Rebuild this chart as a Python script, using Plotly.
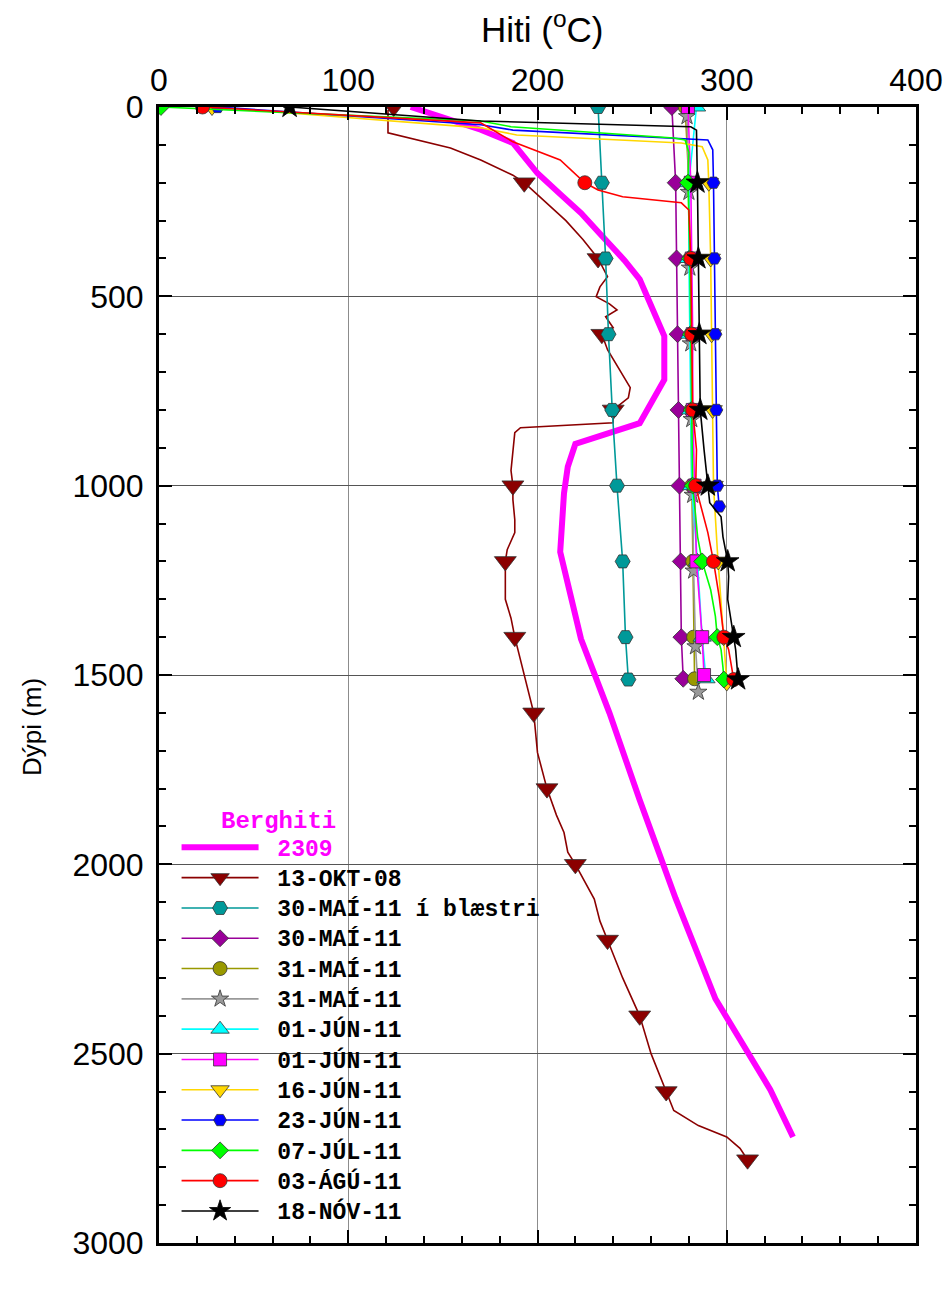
import plotly.graph_objects as go

# Berghiti (formation temperature) for well 2309
berg_depth = [0, 60, 95, 175, 230, 280, 335, 405, 455, 605, 720, 835, 890, 950,
              1020, 1175, 1405, 1600, 1830, 2090, 2355, 2595, 2720]
berg_temp = [133, 170, 187, 200, 212, 223, 233, 246, 254, 267, 267, 254, 220, 216,
             214, 212, 223, 238, 254, 273, 294, 323, 335]

# 13-OKT-08
okt08_depth = [0, 10, 68, 87, 108, 140, 180, 200, 245, 300, 350, 400, 448, 475, 501,
               520, 536, 554, 583, 600, 641, 700, 741, 768, 800, 834, 840, 847, 860,
               913, 960, 1000, 1037, 1090, 1124, 1169, 1200, 1300, 1350, 1400, 1480,
               1565, 1600, 1705, 1760, 1800, 1870, 1916, 1968, 2000, 2092, 2150, 2200,
               2300, 2400, 2500, 2600, 2650, 2690, 2720, 2750, 2780]
okt08_temp = [124, 121, 121, 136, 154, 170, 187, 193, 203, 215, 224, 232, 237, 233, 231,
              238, 242, 236, 240, 234, 237, 244, 249, 248, 240, 240, 215, 191, 188,
              187, 186, 187, 187, 188, 188, 184, 183, 183, 186, 188, 192,
              196, 198, 200, 203, 205, 210, 214, 216, 220, 230, 233, 237,
              245, 254, 260, 268, 272, 285, 300, 307, 311]
okt08_marks = [0, 200, 400, 600, 800, 1000, 1200, 1400, 1600, 1800, 2000, 2200,
               2400, 2600, 2780]

# 30-MAÍ-11 í blæstri
mai30b_depth = [0, 200, 400, 600, 800, 1000, 1200, 1400, 1512]
mai30b_temp = [232, 234, 236, 237.5, 239.5, 242, 245, 246.5, 248]
mai30b_marks = mai30b_depth

# 30-MAÍ-11
mai30_depth = [0, 200, 400, 600, 800, 1000, 1200, 1400, 1510]
mai30_temp = [271, 273, 273.5, 274, 274.5, 275, 275.7, 276, 277]
mai30_marks = mai30_depth

# 31-MAÍ-11 (circles)
mai31a_depth = [0, 200, 400, 600, 800, 1000, 1200, 1400, 1510]
mai31a_temp = [278, 280, 280.5, 281, 281, 281.5, 282, 282.5, 283]
mai31a_marks = mai31a_depth

# 31-MAÍ-11 (stars)
mai31b_depth = [25, 225, 425, 625, 825, 1025, 1225, 1425, 1545]
mai31b_temp = [279, 280, 280.5, 281, 281.5, 282, 282.5, 283.5, 285]
mai31b_marks = mai31b_depth

# 01-JÚN-11 (triangles)
jun01a_depth = [0, 200, 400, 600, 800, 1000, 1200, 1400, 1510]
jun01a_temp = [284, 280, 280, 280.5, 281, 281.5, 284.5, 287, 289]
jun01a_marks = jun01a_depth

# 01-JÚN-11 (squares)
jun01b_depth = [0, 200, 400, 600, 800, 1000, 1200, 1400, 1500]
jun01b_temp = [279.5, 281, 281.5, 282, 282, 283, 284, 287, 288]
jun01b_marks = jun01b_depth

# 16-JÚN-11
jun16_depth = [0, 55, 74, 95, 105, 140, 200, 400, 600, 800, 905, 1000, 1169, 1200,
               1380, 1400, 1520]
jun16_temp = [28, 170, 189, 276, 287, 290, 290.5, 291.5, 292, 292.5, 292.6, 293, 295,
              295.5, 298, 298.3, 300]
jun16_marks = [0, 200, 400, 600, 800, 1000, 1200, 1400, 1520]

# 23-JÚN-11
jun23_depth = [0, 47, 61, 82, 87, 113, 200, 400, 600, 800, 1000, 1055]
jun23_temp = [31, 170, 187, 276, 290, 292.6, 293, 293.5, 294, 294.5, 295, 296]
jun23_marks = [0, 200, 400, 600, 800, 1000, 1055]

# 07-JÚL-11
jul07_depth = [0, 37, 52, 82, 87, 120, 200, 400, 600, 800, 1000, 1135, 1200, 1275,
               1345, 1400, 1433, 1480, 1512]
jul07_temp = [1, 170, 186, 272, 278, 280, 279.5, 280.5, 281, 281.5, 282, 284.6, 287,
              291.5, 294, 295, 297, 298, 298.5]
jul07_marks = [0, 200, 400, 600, 800, 1000, 1200, 1400, 1512]

# 03-ÁGÚ-11
agu03_depth = [0, 42, 92, 140, 200, 219, 237, 253, 272, 400, 600, 800, 905, 1000,
               1029, 1124, 1200, 1293, 1400, 1433, 1512]
agu03_temp = [23, 170, 187, 212, 225, 232, 245, 276, 280, 281, 281.5, 282, 284,
              283.6, 285, 290, 293, 296, 298.5, 301, 303.7]
agu03_marks = [0, 200, 400, 600, 800, 1000, 1200, 1400, 1512]

# 18-NÓV-11
nov18_depth = [0, 37, 52, 61, 200, 400, 600, 800, 905, 950, 1000, 1045, 1082, 1135,
               1200, 1240, 1300, 1345, 1400, 1433, 1512]
nov18_temp = [69, 170, 281, 284, 284.5, 285, 285.5, 286, 288, 289, 290, 291, 297, 298,
              300.5, 301, 300.5, 302, 303.7, 304.7, 306]
nov18_marks = [0, 200, 400, 600, 800, 1000, 1200, 1400, 1512]

x_ticks = [0, 100, 200, 300, 400]
y_ticks = [0, 500, 1000, 1500, 2000, 2500, 3000]

MONO = "Liberation Mono"
SANS = "Liberation Sans"


def legend_label(text, color=None):
    # non-breaking space keeps a gap between the key symbol and the label
    style = "font-size:23px"
    if color:
        style += ";color:" + color
    return "<span style='%s'>\u00a0%s</span>" % (style, text)


fig = go.Figure()

# formation temperature curve
fig.add_trace(go.Scatter(
    x=berg_temp, y=berg_depth, mode="lines", name=legend_label("2309", "#FF00FF"),
    line=dict(color="#FF00FF", width=6), hoverinfo="skip", showlegend=True))


def add_log(label, depth, temp, marks, color, symbol, size, edge="#333333"):
    mx = [t for d, t in zip(depth, temp) if d in marks]
    my = [d for d in depth if d in marks]
    fig.add_trace(go.Scatter(x=temp, y=depth, mode="lines", showlegend=False,
                             line=dict(color=color, width=1.6), hoverinfo="skip"))
    mk = dict(symbol=symbol, size=size, color=color, line=dict(color=edge, width=0.8))
    fig.add_trace(go.Scatter(x=mx, y=my, mode="markers", showlegend=False, marker=mk))
    fig.add_trace(go.Scatter(x=[None], y=[None], mode="lines+markers",
                             name=legend_label(label),
                             line=dict(color=color, width=1.6), marker=mk))


add_log("13-OKT-08", okt08_depth, okt08_temp, okt08_marks, "#8B0000", "triangle-down", 19)
add_log("30-MAÍ-11 í blæstri", mai30b_depth, mai30b_temp, mai30b_marks, "#009999", "hexagon2", 15)
add_log("30-MAÍ-11", mai30_depth, mai30_temp, mai30_marks, "#990099", "diamond", 13)
add_log("31-MAÍ-11", mai31a_depth, mai31a_temp, mai31a_marks, "#999900", "circle", 14)
add_log("31-MAÍ-11", mai31b_depth, mai31b_temp, mai31b_marks, "#999999", "star", 13)
add_log("01-JÚN-11", jun01a_depth, jun01a_temp, jun01a_marks, "#00FFFF", "triangle-up", 16)
add_log("01-JÚN-11", jun01b_depth, jun01b_temp, jun01b_marks, "#FF00FF", "square", 13)
add_log("16-JÚN-11", jun16_depth, jun16_temp, jun16_marks, "#FFD700", "triangle-down", 17)
add_log("23-JÚN-11", jun23_depth, jun23_temp, jun23_marks, "#0000FF", "hexagon2", 13)
add_log("07-JÚL-11", jul07_depth, jul07_temp, jul07_marks, "#00FF00", "diamond", 13)
add_log("03-ÁGÚ-11", agu03_depth, agu03_temp, agu03_marks, "#FF0000", "circle", 14)
add_log("18-NÓV-11", nov18_depth, nov18_temp, nov18_marks, "#000000", "star", 17, edge="#000000")

axis_common = dict(
    showline=True, linewidth=3, linecolor="black", mirror="allticks",
    ticks="inside", tickwidth=2, tickcolor="black", ticklen=13,
    tickfont=dict(family=SANS, size=32, color="black"),
    zeroline=False, showgrid=True, gridwidth=1, automargin=False,
)

fig.update_xaxes(
    range=[0, 400], side="top", tickvals=x_ticks, gridcolor="#8c8c8c",
    minor=dict(ticks="inside", dtick=20, ticklen=7, tickwidth=2, tickcolor="black",
               showgrid=False),
    **axis_common)
fig.update_yaxes(
    range=[3000, 0], tickvals=y_ticks, gridcolor="#555555", ticklabelstandoff=6,
    minor=dict(ticks="inside", dtick=100, ticklen=7, tickwidth=2, tickcolor="black",
               showgrid=False),
    **axis_common)

fig.add_annotation(text="Hiti (<sup>o</sup>C)", xref="paper", yref="paper",
                   x=0.506, y=1.07, showarrow=False, xanchor="center", yanchor="middle",
                   font=dict(family=SANS, size=35, color="black"))
fig.add_annotation(text="Dýpi (m)", xref="paper", yref="paper", textangle=-90,
                   x=-0.168, y=0.454, showarrow=False, xanchor="center", yanchor="middle",
                   font=dict(family=SANS, size=26, color="black"))
fig.add_annotation(text="Berghiti", xref="x", yref="y", x=63, y=1887, showarrow=False,
                   xanchor="center", yanchor="middle",
                   font=dict(family=MONO, size=24, color="#FF00FF", weight="bold"))

fig.update_layout(
    width=946, height=1312, autosize=False,
    margin=dict(l=159, r=30, t=107, b=69),
    paper_bgcolor="white", plot_bgcolor="white",
    showlegend=True,
    legend=dict(x=0.0232, y=0.366, xanchor="left", yanchor="top",
                bgcolor="rgba(0,0,0,0)", borderwidth=0, itemwidth=77,
                font=dict(family=MONO, size=21, color="black", weight="bold"),
                traceorder="normal", itemclick=False),
)

fig.write_html("out.html")
